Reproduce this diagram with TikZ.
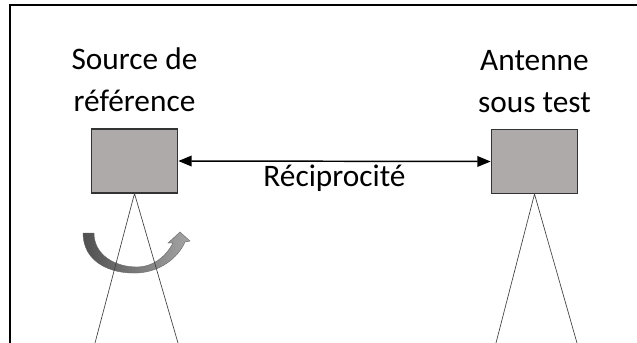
\documentclass[tikz,border=0pt]{standalone}
\usepackage{fontspec}
\setmainfont{Carlito}
\usepackage{tikz}
\usetikzlibrary{arrows.meta,positioning}
\definecolor{boxgray}{RGB}{174,170,170}
\definecolor{rotdark}{RGB}{80,80,80}
\definecolor{rotlight}{RGB}{165,165,165}

\begin{document}
\begin{tikzpicture}[x=0.75pt,y=-0.75pt,
  box/.style={rectangle,draw=black!80,fill=boxgray,line width=0.8pt,
    minimum width=65pt,minimum height=48pt,inner sep=0pt},
  lbl/.style={align=center,inner sep=0pt,font=\fontsize{23.5}{31.5}\selectfont},
  arr/.style={{Triangle[length=10pt,width=8pt]}-{Triangle[length=10pt,width=8pt]},line width=1.1pt},
  leg/.style={line width=0.5pt,black!75}]
  \useasboundingbox (0,0) rectangle (637,343);
  \draw[line width=0.8pt] (10,343) -- (10,5) -- (637,5);
  \node[box] (srcbox) at (134.5,161) {};
  \node[box] (autbox) at (534.5,161.5) {};
  \node[lbl,above=12pt of srcbox] (srclbl) {Source de\\référence};
  \node[lbl,above=12pt of autbox] (autlbl) {Antenne\\sous test};
  \draw[arr] (srcbox.east) -- (autbox.west)
    node[midway,anchor=base,yshift=-18.75pt,font=\fontsize{23.5}{28}\selectfont] (recip) {Réciprocité};
  \path[draw=black!60,line width=0.3pt,left color=rotdark,right color=rotlight]
    (83,233) .. controls (83,262) and (110,274) .. (137,273)
    .. controls (160,272) and (178,258) .. (185,242)
    -- (190,241) -- (180,232) -- (168,243) -- (173,243)
    .. controls (165,258) and (152,267) .. (137,267)
    .. controls (115,267) and (94,255) .. (94,233) -- cycle;
  \coordinate (srcl) at (95,343);
  \coordinate (srcr) at (178,343);
  \coordinate (autl) at (496,343);
  \coordinate (autr) at (577,343);
  \draw[leg] (srcl) -- (srcbox.south) -- (srcr);
  \draw[leg] (autl) -- (autbox.south) -- (autr);
\end{tikzpicture}
\end{document}
